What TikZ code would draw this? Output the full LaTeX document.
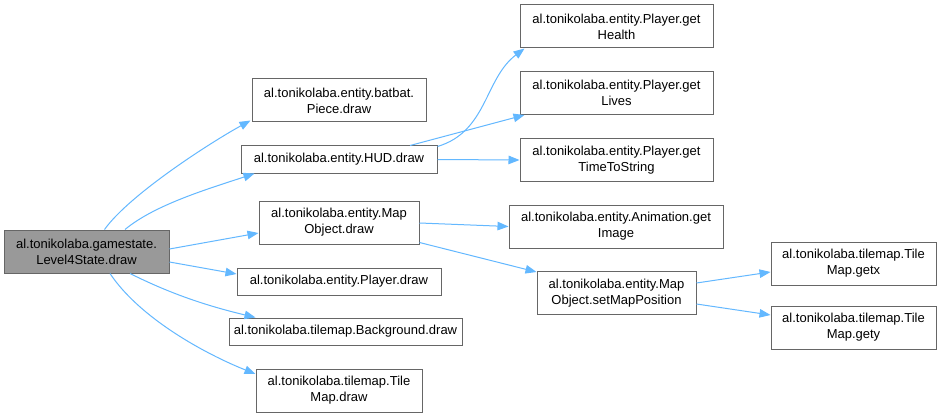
\documentclass[tikz,border=0pt]{standalone}
\usepackage{fontspec}
\setmainfont{Liberation Sans}
\usetikzlibrary{arrows.meta}
\definecolor{edgeblue}{HTML}{63B8FF}
\definecolor{boxborder}{HTML}{666666}
\definecolor{rootfill}{HTML}{999999}
\begin{document}
\begin{tikzpicture}[x=1pt,y=-1pt,
  box/.style={draw=boxborder,line width=1pt,fill=white,rectangle,inner sep=0pt,align=center,
    font=\fontsize{13}{16}\selectfont},
  rootbox/.style={box,fill=rootfill},
  conn/.style={draw=edgeblue,line width=1pt,-{Triangle[length=11pt,width=8.5pt]}}]
\fill[white] (0,0) rectangle (942,417);
\useasboundingbox (0,0) rectangle (942,417);
\node[rootbox,minimum width=165pt,minimum height=43pt] (root) at (86.5,251.5) {al.tonikolaba.gamestate.\\Level4State.draw};
\node[box,minimum width=174pt,minimum height=43pt] (piece) at (339,100.5) {al.tonikolaba.entity.batbat.\\Piece.draw};
\node[box,minimum width=196pt,minimum height=27pt] (hud) at (339,159.5) {al.tonikolaba.entity.HUD.draw};
\node[box,minimum width=193pt,minimum height=43pt] (health) at (616.5,26.5) {al.tonikolaba.entity.Player.get\\Health};
\node[box,minimum width=193pt,minimum height=43pt] (lives) at (616.5,93) {al.tonikolaba.entity.Player.get\\Lives};
\node[box,minimum width=193pt,minimum height=43pt] (time) at (616.5,160) {al.tonikolaba.entity.Player.get\\TimeToString};
\node[box,minimum width=160pt,minimum height=43pt] (mapdraw) at (339,222.5) {al.tonikolaba.entity.Map\\Object.draw};
\node[box,minimum width=204pt,minimum height=27pt] (pdraw) at (339,281.5) {al.tonikolaba.entity.Player.draw};
\node[box,minimum width=233pt,minimum height=27pt] (bg) at (345.5,331.5) {al.tonikolaba.tilemap.Background.draw};
\node[box,minimum width=166pt,minimum height=43pt] (tmdraw) at (339,390.5) {al.tonikolaba.tilemap.Tile\\Map.draw};
\node[box,minimum width=214pt,minimum height=43pt] (image) at (616,226.5) {al.tonikolaba.entity.Animation.get\\Image};
\node[box,minimum width=159pt,minimum height=43pt] (setmap) at (616.5,293) {al.tonikolaba.entity.Map\\Object.setMapPosition};
\node[box,minimum width=165pt,minimum height=43pt] (getx) at (853.5,263.5) {al.tonikolaba.tilemap.Tile\\Map.getx};
\node[box,minimum width=165pt,minimum height=43pt] (gety) at (853.5,327.5) {al.tonikolaba.tilemap.Tile\\Map.gety};
% connectors
\draw[conn] ([xshift=18pt]root.north) .. controls +(25,-35) and +(-40,22) .. ([xshift=-1pt,yshift=2pt]piece.south west);
\draw[conn] ([xshift=38.5pt]root.north) .. controls +(30,-25) and +(-45,15) .. ([xshift=14pt]hud.south west);
\draw[conn] ([yshift=2.5pt]root.east) -- ([yshift=-10.5pt]mapdraw.west);
\draw[conn] ([yshift=-10.5pt]root.east) -- ([yshift=7.5pt]pdraw.west);
\draw[conn] ([xshift=43.5pt]root.south) .. controls +(40,20) and +(-50,-12) .. ([xshift=27pt]bg.north west);
\draw[conn] ([xshift=23.5pt]root.south) .. controls +(30,45) and +(-50,-20) .. ([yshift=16.5pt]tmdraw.west);
\draw[conn] ([yshift=-1pt]hud.north east) .. controls +(50,-15) and +(-40,30) .. ([xshift=5pt]health.south west);
\draw[conn] ([xshift=71pt]hud.north) -- ([xshift=5pt]lives.south west);
\draw[conn] (hud.east) -- (time.west);
\draw[conn] ([yshift=-0.5pt]mapdraw.east) -- (image.west);
\draw[conn] ([yshift=-20pt]mapdraw.east) -- ([yshift=-1pt]setmap.north west);
\draw[conn] ([yshift=10pt]setmap.east) -- ([yshift=-8.5pt]getx.west);
\draw[conn] ([yshift=-11pt]setmap.east) -- ([yshift=12.5pt]gety.west);
\end{tikzpicture}
\end{document}
